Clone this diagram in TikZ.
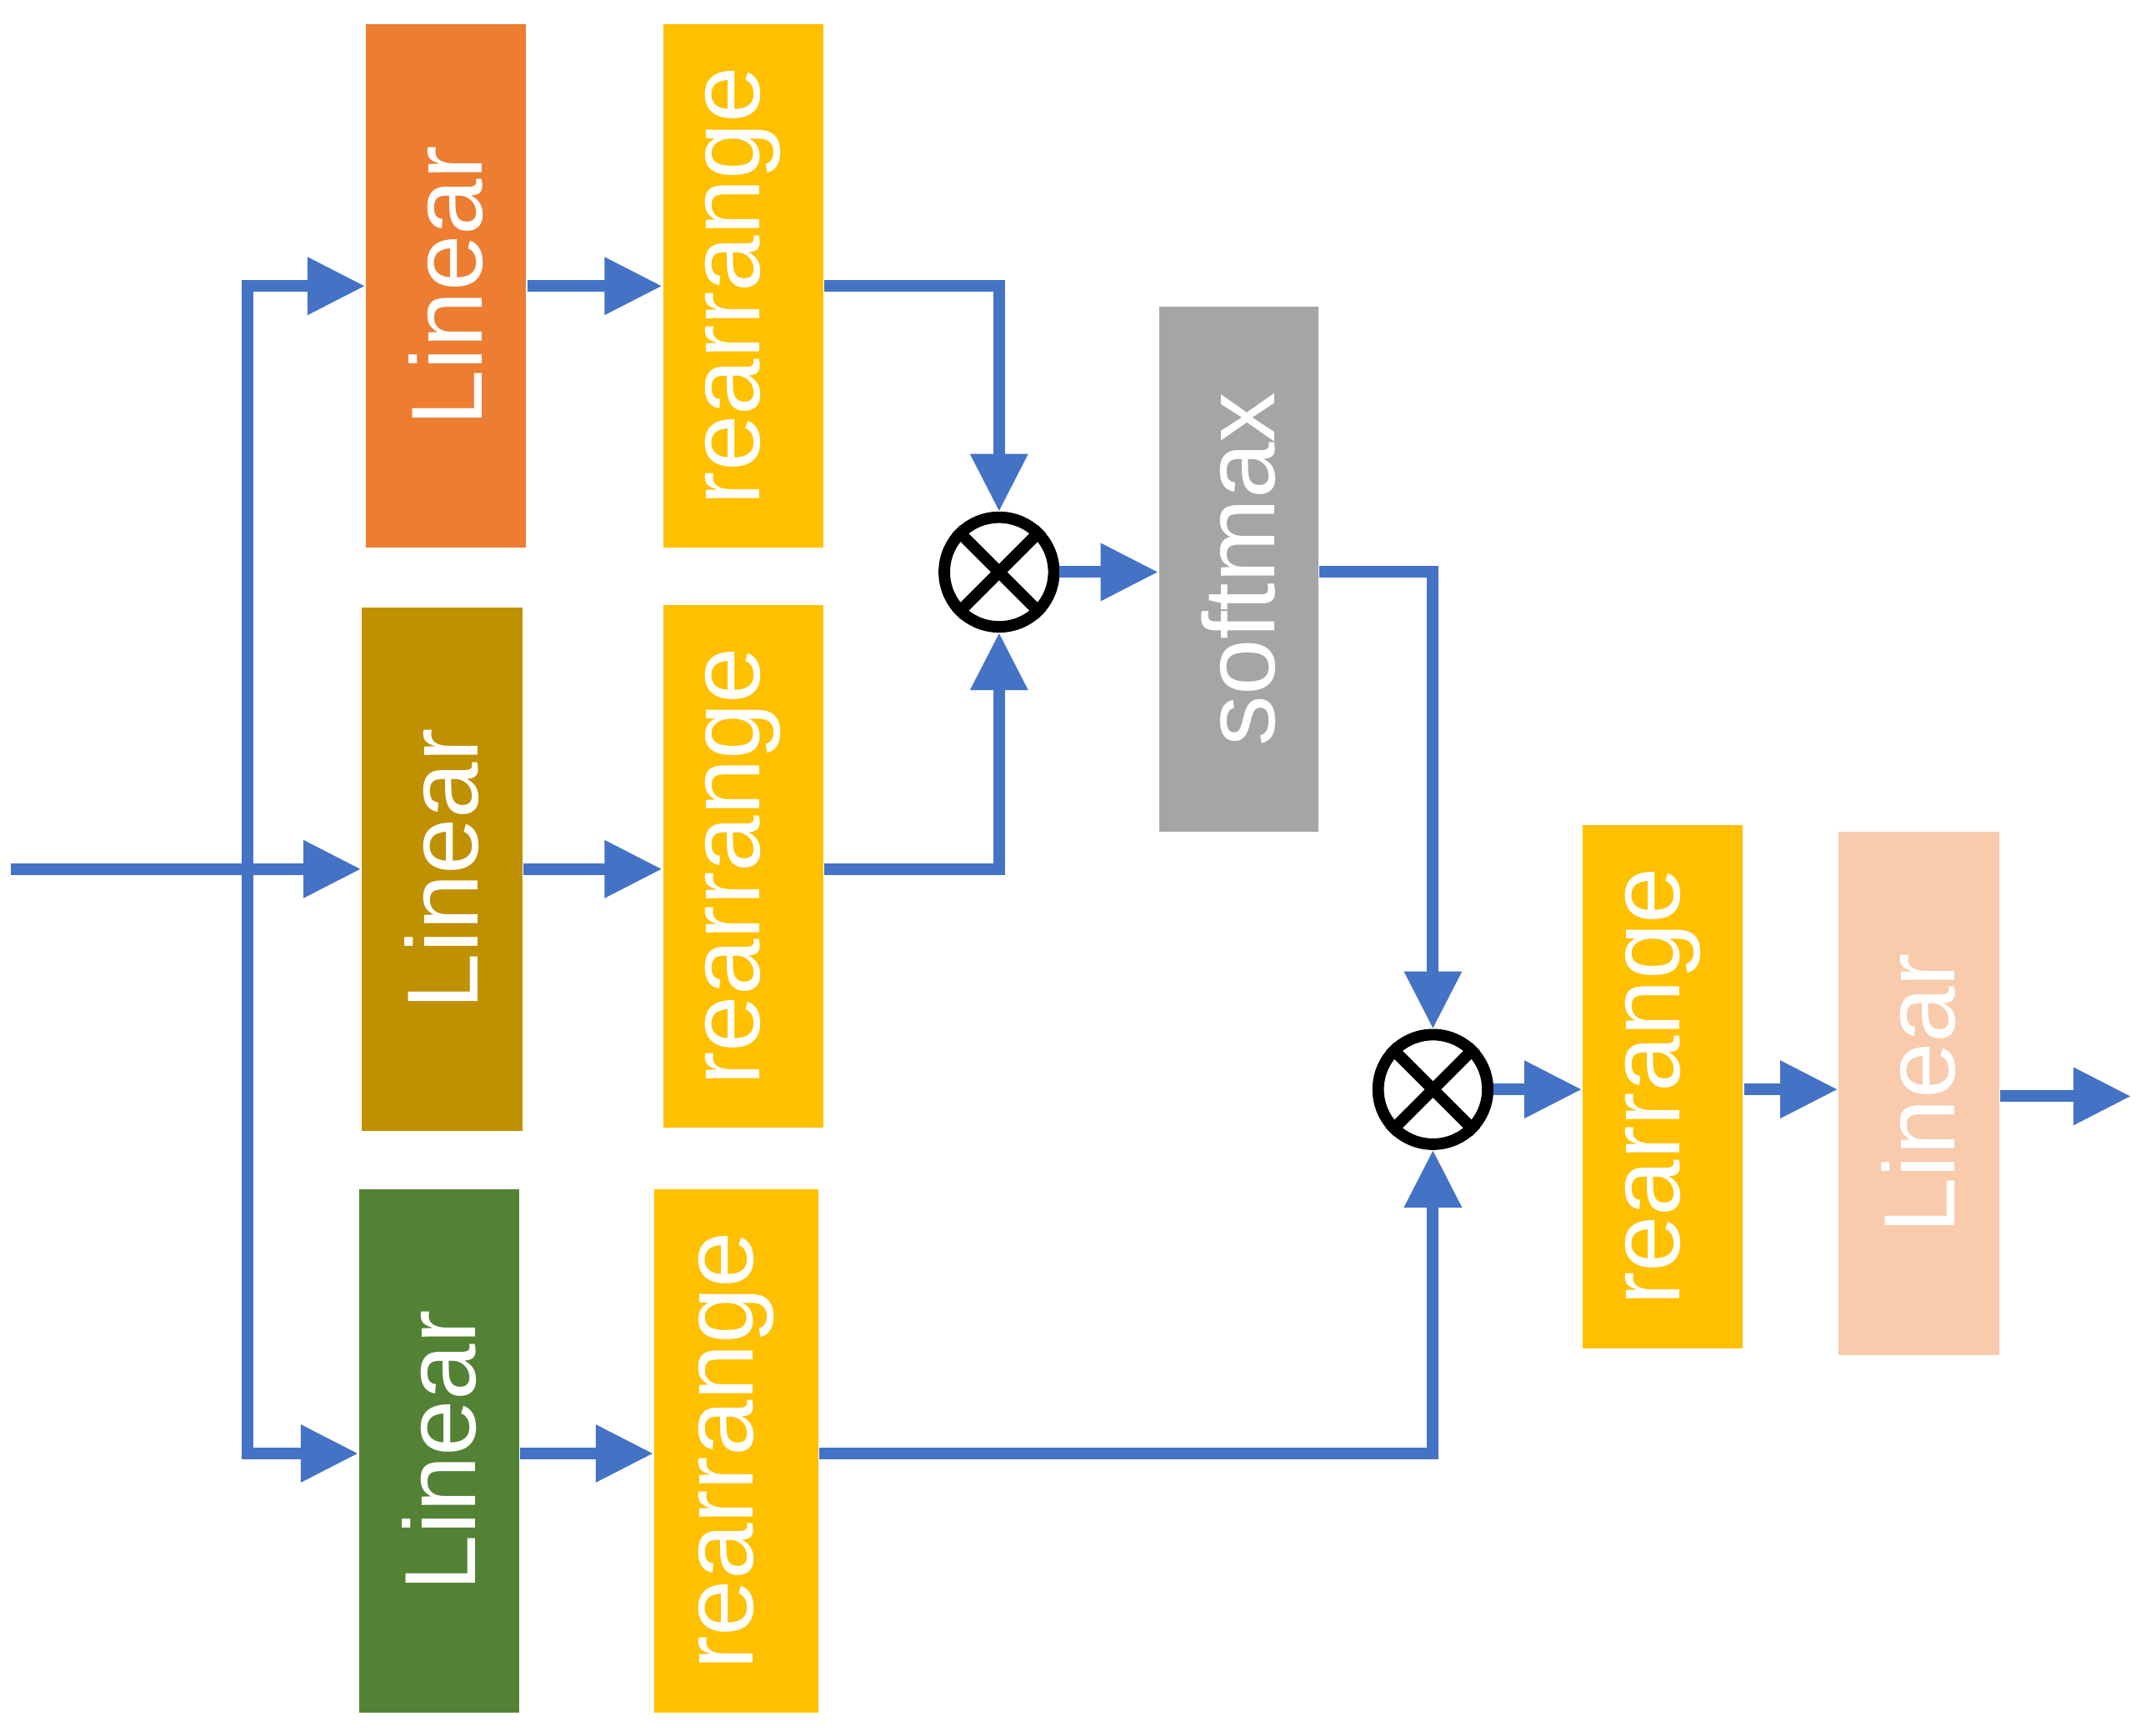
\documentclass[tikz,border=0pt]{standalone}
\usepackage{fontspec}
\setmainfont{Liberation Sans}
\usetikzlibrary{arrows.meta}
\definecolor{ar}{HTML}{4472C4}
\begin{document}
\begin{tikzpicture}[x=0.01cm,y=-0.01cm,
 box/.style={draw=none,minimum width=1.17cm,minimum height=3.82cm,inner sep=0},
 txt/.style={rotate=90,text=white,font=\fontsize{21}{21}\selectfont},
 con/.style={draw=ar,line width=2.4pt,-{Triangle[length=0.42cm,width=0.4cm]}},
 op/.style={circle,draw=black,line width=2.4pt,minimum size=0.8cm,inner sep=0,fill=white}]
\useasboundingbox (0,0) rectangle (1568,1268);
\node[box,fill={rgb,255:red,237;green,125;blue,49}] (l1) at (326,209) {};
\node[txt] at (l1) {Linear};
\node[box,fill={rgb,255:red,255;green,192;blue,0}] (r1) at (543,209) {};
\node[txt] at (r1) {rearrange};
\node[box,fill={rgb,255:red,191;green,144;blue,0}] (l2) at (323,635) {};
\node[txt] at (l2) {Linear};
\node[box,fill={rgb,255:red,255;green,192;blue,0}] (r2) at (543,633) {};
\node[txt] at (r2) {rearrange};
\node[box,fill={rgb,255:red,84;green,130;blue,53}] (l3) at (321,1060) {};
\node[txt] at (l3) {Linear};
\node[box,fill={rgb,255:red,255;green,192;blue,0},minimum width=1.2cm] (r3) at (538,1060) {};
\node[txt] at (r3) {rearrange};
\node[box,fill={rgb,255:red,165;green,165;blue,165},minimum width=1.16cm,minimum height=3.83cm] (sm) at (905,416) {};
\node[txt] at (sm) {softmax};
\node[box,fill={rgb,255:red,255;green,192;blue,0}] (r4) at (1215,794) {};
\node[txt] at (r4) {rearrange};
\node[box,fill={rgb,255:red,248;green,203;blue,173}] (l4) at (1402,799) {};
\node[txt] at (l4) {Linear};
\node[op] (m1) at (730,418) {};
\draw[line width=2.4pt] (m1.north east)--(m1.south west) (m1.north west)--(m1.south east);
\node[op] (m2) at (1047,796) {};
\draw[line width=2.4pt] (m2.north east)--(m2.south west) (m2.north west)--(m2.south east);
\coordinate (in) at (8,635);
\coordinate (out) at (1557,801);
\coordinate (j) at (181,635);
\draw[con] (in)--(l2.west);
\draw[con] (j) |- (l1.west);
\draw[con] (j) |- (l3.west|-0,1062);
\draw[con] (l1.east)--(r1.west);
\draw[con] (l2.east|-0,635)--(r2.west|-0,635);
\draw[con] (l3.east|-0,1062)--(r3.west|-0,1062);
\draw[con] (r1.east)-|(m1.north);
\draw[con] (r2.east|-0,635)-|(m1.south);
\draw[con] (m1.east)--(sm.west|-m1);
\draw[con] (sm.east|-0,418)-|(m2.north);
\draw[con] (r3.east|-0,1062)-|(m2.south);
\draw[con] (m2.east)--(r4.west|-m2);
\draw[con] (r4.east|-m2)--(l4.west|-m2);
\draw[con] (l4.east|-out)--(out);
\end{tikzpicture}
\end{document}
